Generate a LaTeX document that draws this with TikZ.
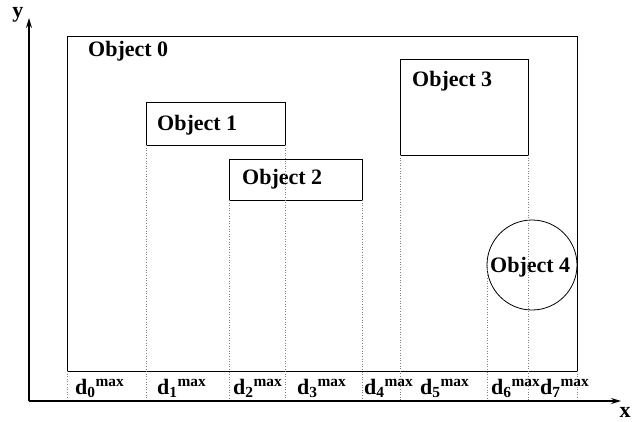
\documentclass[tikz,border=0pt]{standalone}
\usepackage{fontspec}
\setmainfont{Liberation Serif}
\usetikzlibrary{arrows.meta}

\tikzset{
  obj/.style={draw, line width=0.8pt},
  proj/.style={draw=gray, dotted, line width=0.6pt},
  axis/.style={line width=1.3pt, -{Stealth[length=10pt,width=6pt]}},
  lbl/.style={font=\fontsize{22}{24}\selectfont\bfseries, anchor=base west, inner sep=0pt},
}

\begin{document}
\begin{tikzpicture}[x=1pt,y=-1pt]
  \useasboundingbox (0,0) rectangle (639,422);

  % objects
  \draw[obj] (67,36) rectangle (577,371);
  \draw[obj] (146,102) rectangle (285,145);
  \draw[obj] (229,159) rectangle (362,200);
  \draw[obj] (400,59) rectangle (528,155);
  \draw[obj] (532,265) circle (45);

  \node[lbl] (obj0) at (88,57) {Object 0};
  \node[lbl] (obj1) at (157,131) {Object 1};
  \node[lbl] (obj2) at (242,184) {Object 2};
  \node[lbl] (obj3) at (412,87) {Object 3};
  \node[lbl] (obj4) at (490,272) {Object 4};

  % projections onto the x axis
  \foreach \x/\y in {67/371,146/145,285/145,229/200,362/200,400/155,528/155,487/265,577/371}
    \draw[proj] (\x,\y) -- (\x,401);

  % axes
  \coordinate (o) at (29,401);
  \coordinate (ytip) at (29,18);
  \coordinate (xtip) at (621,401);
  \draw[axis] (o) -- (ytip);
  \draw[axis] (o) -- (xtip);
  \node[lbl, anchor=base] (ylab) at (18,18) {y};
  \node[lbl, anchor=base] (xlab) at (625,417) {x};

  % distance labels
  \foreach \i/\x in {0/75,1/157,2/233,3/297,4/364,5/420,6/491,7/540}
    \node[lbl] (d\i) at (\x,394) {d\textsubscript{\i}\textsuperscript{max}};
\end{tikzpicture}
\end{document}
